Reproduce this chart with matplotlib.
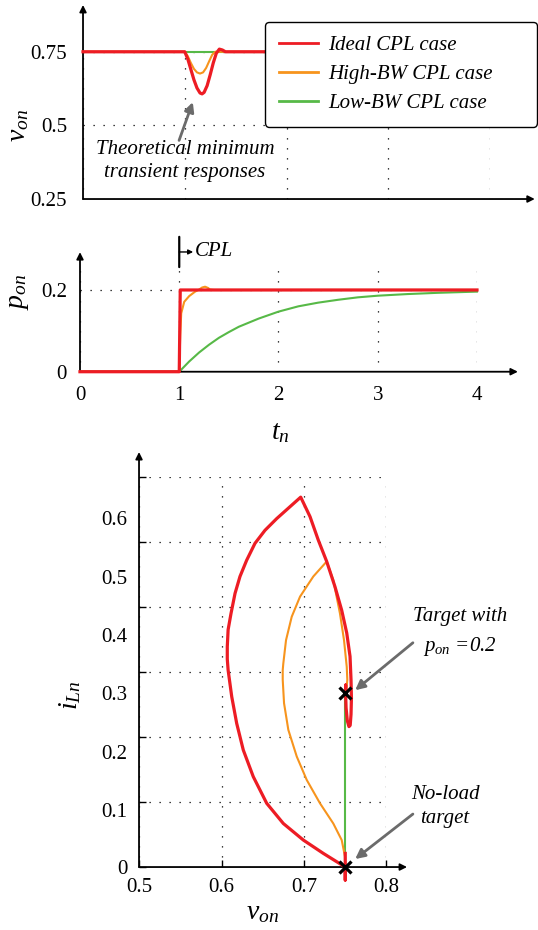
import matplotlib.pyplot as plt
import numpy as np

plt.rcParams['font.family'] = 'Liberation Serif'
plt.rcParams['mathtext.fontset'] = 'custom'
plt.rcParams['mathtext.rm'] = 'Liberation Serif'
plt.rcParams['mathtext.it'] = 'Liberation Serif:italic'

RED = '#ED1C24'
ORANGE = '#F7941D'
GREEN = '#57B947'
GREY = '#6B6B6B'

# output voltage v_on(t_n)
t_ideal = [0, 1.00, 1.03, 1.06, 1.09, 1.12, 1.15, 1.17, 1.19, 1.22, 1.25, 1.28, 1.31, 1.34, 1.37, 1.40, 4.0]
v_ideal = [0.75, 0.75, 0.725, 0.690, 0.655, 0.627, 0.610, 0.607, 0.612, 0.635, 0.672, 0.712, 0.745, 0.759, 0.756, 0.75, 0.75]
t_high = [0, 1.00, 1.03, 1.06, 1.09, 1.12, 1.15, 1.18, 1.21, 1.24, 1.27, 1.30, 4.0]
v_high = [0.75, 0.75, 0.735, 0.712, 0.692, 0.680, 0.676, 0.680, 0.695, 0.718, 0.740, 0.75, 0.75]
t_low = [0, 4.0]
v_low = [0.75, 0.75]

# load power p_on(t_n)
tp_ideal = [0, 1.0, 1.01, 4.0]
p_ideal = [0, 0, 0.2, 0.2]
tp_high = [0, 1.0, 1.01, 1.02, 1.05, 1.10, 1.16, 1.20, 1.23, 1.26, 1.29, 1.31, 1.35, 4.0]
p_high = [0, 0, 0.09, 0.143, 0.171, 0.185, 0.196, 0.201, 0.206, 0.208, 0.205, 0.201, 0.2, 0.2]
tp_low = [0, 1.0, 1.1, 1.2, 1.3, 1.4, 1.5, 1.6, 1.8, 2.0, 2.2, 2.4, 2.6, 2.8, 3.0, 3.3, 3.6, 4.0]
p_low = [0, 0, 0.025, 0.047, 0.066, 0.083, 0.097, 0.110, 0.130, 0.147, 0.160, 0.169, 0.176, 0.182, 0.186, 0.190, 0.193, 0.196]

# state plane trajectories (v_on, i_Ln)
vp_ideal = [0.750, 0.750, 0.750, 0.7234, 0.6992, 0.6749, 0.6548, 0.6385, 0.6264, 0.6184, 0.6124, 0.608,
            0.607, 0.607, 0.608, 0.6115, 0.6164, 0.6224, 0.6305, 0.6406, 0.6527, 0.6669, 0.681, 0.696,
            0.7073, 0.7173, 0.7275, 0.7376, 0.7457, 0.7518, 0.7558, 0.757, 0.7575, 0.757, 0.756, 0.7545,
            0.7525, 0.751, 0.7505, 0.7505, 0.7505]
ip_ideal = [0.021, -0.02, 0.0, 0.021, 0.0415, 0.067, 0.098, 0.139, 0.180, 0.221, 0.262, 0.303,
            0.320, 0.339, 0.365, 0.390, 0.421, 0.447, 0.472, 0.498, 0.518, 0.536, 0.552, 0.569,
            0.539, 0.503, 0.470, 0.431, 0.395, 0.360, 0.324, 0.288, 0.260, 0.235, 0.218, 0.216,
            0.225, 0.245, 0.265, 0.280, 0.267]
vp_high = [0.750, 0.7497, 0.7457, 0.7355, 0.7194, 0.7033, 0.6912, 0.681, 0.6758, 0.6742, 0.6742, 0.6749,
           0.6782, 0.6851, 0.6952, 0.7113, 0.7275, 0.7355, 0.7436, 0.7485, 0.7518, 0.7525, 0.751]
ip_high = [0.0, 0.016, 0.0415, 0.067, 0.098, 0.134, 0.170, 0.211, 0.252, 0.288, 0.303, 0.313,
           0.349, 0.385, 0.416, 0.447, 0.470, 0.4415, 0.390, 0.349, 0.308, 0.288, 0.267]
vp_low = [0.75, 0.75]
ip_low = [0.0, 0.267]
targets_v = [0.75, 0.75]
targets_i = [0.0, 0.267]

i_ticks = [0, 0.1, 0.2, 0.3, 0.4, 0.5, 0.6]
i_label_pos = [0, 0.0877, 0.1774, 0.2677, 0.3569, 0.4462, 0.5369]

fig = plt.figure(figsize=(5.38, 9.30), dpi=100)
ax1 = fig.add_axes([0.1543, 0.786, 0.7565, 0.1615])
ax2 = fig.add_axes([0.1487, 0.6003, 0.7379, 0.1169])
ax3 = fig.add_axes([0.2584, 0.0677, 0.46, 0.4194])

grid_kw = dict(color='k', lw=0.9, linestyle=(0, (1, 7)))
FS = 15
LFS = 20


def arrow_axes(ax, xend, yend):
    for s in ax.spines.values():
        s.set_visible(False)
    akw = dict(arrowstyle='-|>', lw=1.3, color='k', shrinkA=0, shrinkB=0, mutation_scale=10)
    ax.annotate('', xy=(xend, 0), xytext=(0, 0), xycoords='axes fraction', arrowprops=akw)
    ax.annotate('', xy=(0, yend), xytext=(0, 0), xycoords='axes fraction', arrowprops=akw)


# --- voltage ---
ax1.plot(t_low, v_low, color=GREEN, lw=1.5, clip_on=False, zorder=3)
ax1.plot(t_high, v_high, color=ORANGE, lw=1.5, clip_on=False, zorder=4)
ax1.plot(t_ideal, v_ideal, color=RED, lw=2.3, clip_on=False, zorder=5)
ax1.set_xlim(0, 4)
ax1.set_ylim(0.25, 0.76)
ax1.set_xticks([0, 1, 2, 3, 4])
ax1.set_xticklabels([])
ax1.set_yticks([0.25, 0.5, 0.75])
ax1.set_yticklabels(['0.25', '0.5', '0.75'])
ax1.tick_params(length=0, labelsize=FS, pad=11.5)
ax1.grid(True, **grid_kw)
arrow_axes(ax1, 1.11, 1.292)
ax1.set_ylabel(r'$v_{on}$', fontsize=LFS)
ax1.yaxis.set_label_coords(-0.128, 0.49)
ax1.annotate('', xy=(1.079, 0.579), xytext=(0.944, 0.449),
             arrowprops=dict(arrowstyle='-|>', color=GREY, lw=2, mutation_scale=14, shrinkA=0, shrinkB=0))
ax1.text(1.003, 0.379, 'Theoretical minimum\ntransient responses', ha='center', va='center',
         fontsize=FS, style='italic', linespacing=1.25)
h_ideal, = ax1.plot([], [], color=RED, lw=2)
h_high, = ax1.plot([], [], color=ORANGE, lw=2)
h_low, = ax1.plot([], [], color=GREEN, lw=2)
leg = fig.legend([h_ideal, h_high, h_low], ['Ideal CPL case', 'High-BW CPL case', 'Low-BW CPL case'],
                 loc='upper left', bbox_to_anchor=(265 / 538, 1 - 126 / 930, 272 / 538, 104 / 930),
                 mode='expand', prop={'size': FS, 'style': 'italic'}, frameon=True, fancybox=True,
                 edgecolor='k', framealpha=1, handlelength=1.9, handletextpad=0.5,
                 labelspacing=0.45, borderpad=0.65, borderaxespad=0)
leg.get_frame().set_linewidth(1.0)

# --- power ---
ax2.plot(tp_low, p_low, color=GREEN, lw=1.5, clip_on=False, zorder=3)
ax2.plot(tp_high, p_high, color=ORANGE, lw=1.5, clip_on=False, zorder=4)
ax2.plot(tp_ideal, p_ideal, color=RED, lw=2.3, clip_on=False, zorder=5)
ax2.set_xlim(0, 4)
ax2.set_ylim(0, 0.266)
ax2.set_xticks([0, 1, 2, 3, 4])
ax2.set_yticks([0, 0.2])
ax2.set_yticklabels(['0', '0.2'])
ax2.tick_params(length=0, labelsize=FS)
ax2.tick_params(axis='y', pad=9.5)
ax2.tick_params(axis='x', pad=10)
ax2.grid(True, **grid_kw)
arrow_axes(ax2, 1.103, 1.10)
ax2.set_ylabel(r'$p_{on}$', fontsize=LFS)
ax2.yaxis.set_label_coords(-0.124, 0.733)
ax2.set_xlabel(r'$t_n$', fontsize=LFS)
ax2.xaxis.set_label_coords(0.504, -0.444)
ax2.annotate('', xy=(1, 0.33), xytext=(1, 0.256), annotation_clip=False,
             arrowprops=dict(arrowstyle='-', lw=1.6, color='k', shrinkA=0, shrinkB=0))
ax2.annotate('', xy=(1.14, 0.293), xytext=(1, 0.293), annotation_clip=False,
             arrowprops=dict(arrowstyle='-|>', lw=1.0, color='k', shrinkA=0, shrinkB=0, mutation_scale=7))
ax2.text(1.155, 0.293, 'CPL', fontsize=FS, style='italic', va='center', ha='left', clip_on=False)

# --- state plane ---
ax3.plot(vp_low, ip_low, color=GREEN, lw=1.5, clip_on=False, zorder=3)
ax3.plot(vp_high, ip_high, color=ORANGE, lw=1.5, clip_on=False, zorder=4)
ax3.plot(vp_ideal, ip_ideal, color=RED, lw=2.3, clip_on=False, zorder=5)
ax3.plot(targets_v, targets_i, linestyle='none', marker='x', color='k', ms=8, mew=2.3,
         clip_on=False, zorder=6)
ax3.set_xlim(0.5, 0.8)
ax3.set_ylim(0, 0.6)
ax3.set_xticks([0.5, 0.6, 0.7, 0.8])
ax3.set_xticklabels(['0.5', '0.6', '0.7', '0.8'])
ax3.yaxis.remove_overlapping_locs = False
ax3.set_yticks(i_ticks)
ax3.set_yticklabels([])
ax3.set_yticks(i_label_pos, minor=True)
ax3.set_yticklabels([str(v) for v in i_ticks], minor=True)
ax3.tick_params(which='major', direction='in', length=5, width=1, labelsize=FS, pad=8)
ax3.tick_params(axis='y', which='minor', length=0, labelsize=FS, pad=8.5)
ax3.grid(True, which='major', **grid_kw)
arrow_axes(ax3, 1.083, 1.064)
ax3.set_ylabel(r'$i_{Ln}$', fontsize=LFS)
ax3.yaxis.set_label_coords(-0.224, 0.441)
ax3.set_xlabel(r'$v_{on}$', fontsize=LFS)
ax3.xaxis.set_label_coords(0.50, -0.085)
akw = dict(arrowstyle='-|>', color=GREY, lw=2, mutation_scale=14, shrinkA=0, shrinkB=0)
ax3.annotate('', xy=(0.762, 0.272), xytext=(0.832, 0.345), arrowprops=akw, annotation_clip=False)
ax3.text(0.889, 0.361, 'Target with\n$p_{on}$ =0.2', ha='center', va='center', fontsize=FS,
         style='italic', linespacing=1.6, clip_on=False)
ax3.annotate('', xy=(0.762, 0.0123), xytext=(0.832, 0.0815), arrowprops=akw, annotation_clip=False)
ax3.text(0.871, 0.0935, 'No-load\ntarget', ha='center', va='center', fontsize=FS,
         style='italic', linespacing=1.35, clip_on=False)

fig.savefig('out.png', dpi=100)
